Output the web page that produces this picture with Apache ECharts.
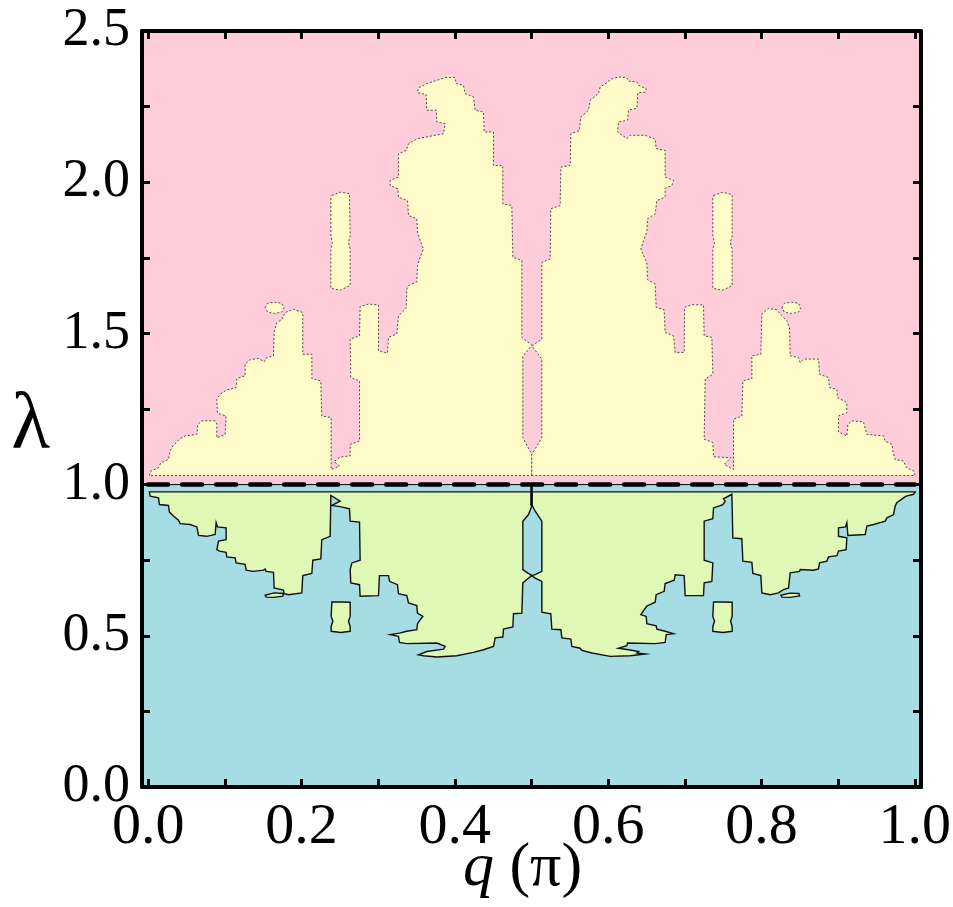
<!DOCTYPE html>
<html>
<head>
<meta charset="utf-8">
<title>q - lambda phase diagram</title>
<script src="https://cdn.jsdelivr.net/npm/echarts@6/dist/echarts.min.js"></script>
</head>
<body style="margin:0;background:#fff">
<div id="main" style="width:953px;height:907px;"></div>
<script>
// ticks and labels
var xTicks = [0, 0.1, 0.2, 0.3, 0.4, 0.5, 0.6, 0.7, 0.8, 0.9, 1.0];
var xLabels = [0, 0.2, 0.4, 0.6, 0.8, 1.0];
var yTicks = [0, 0.25, 0.5, 0.75, 1.0, 1.25, 1.5, 1.75, 2.0, 2.25, 2.5];
var yLabels = [0, 0.5, 1.0, 1.5, 2.0, 2.5];

// background bands of lambda
var bandBelow = [0, 1.0];
var bandAbove = [1.0, 2.5];

// lambda > 1 regions (yellow), [q, lambda]
var yellowLeft = [
  [0.0017,1.030],[0.0035,1.045],[0.0135,1.056],[0.0165,1.072],[0.0265,1.083],[0.0287,1.111],[0.0322,1.128],[0.0417,1.152],[0.0483,1.161],[0.0635,1.166],
  [0.0648,1.199],[0.0700,1.211],[0.0874,1.211],[0.0896,1.199],[0.0896,1.155],[0.1004,1.166],[0.1017,1.227],[0.0904,1.236],[0.0896,1.282],[0.0939,1.299],
  [0.1026,1.313],[0.1148,1.321],[0.1157,1.351],[0.1265,1.360],[0.1265,1.398],[0.1330,1.413],[0.1439,1.417],[0.1513,1.406],[0.1548,1.420],[0.1635,1.426],
  [0.1643,1.503],[0.1678,1.536],[0.1743,1.545],[0.1787,1.569],[0.1896,1.580],[0.2017,1.569],[0.2017,1.431],[0.2135,1.431],[0.2135,1.351],[0.2252,1.343],
  [0.2265,1.227],[0.2387,1.222],[0.2387,1.050],[0.2496,1.061],[0.2426,1.076],[0.2504,1.091],[0.2635,1.095],[0.2635,1.133],[0.2757,1.144],[0.2757,1.343],
  [0.2643,1.354],[0.2635,1.481],[0.2757,1.492],[0.2765,1.589],[0.2874,1.597],[0.3004,1.594],[0.3004,1.442],[0.3122,1.435],[0.3135,1.487],[0.3243,1.498],
  [0.3265,1.558],[0.3365,1.583],[0.3374,1.647],[0.3409,1.660],[0.3504,1.671],[0.3513,1.724],[0.3548,1.752],[0.3591,1.779],[0.3548,1.807],[0.3513,1.835],
  [0.3504,1.879],[0.3396,1.890],[0.3383,1.939],[0.3265,1.951],[0.3257,1.978],[0.3157,1.989],[0.3157,2.006],[0.3265,2.017],[0.3265,2.094],[0.3365,2.105],
  [0.3396,2.127],[0.3513,2.144],[0.3743,2.155],[0.3852,2.160],[0.3874,2.194],[0.3765,2.199],[0.3757,2.238],[0.3635,2.238],[0.3626,2.290],[0.3513,2.296],
  [0.3526,2.312],[0.3635,2.326],[0.3874,2.346],[0.4004,2.346],[0.4017,2.326],[0.4113,2.320],[0.4135,2.293],[0.4243,2.282],[0.4265,2.238],[0.4374,2.232],
  [0.4383,2.166],[0.4504,2.166],[0.4504,2.055],[0.4626,2.055],[0.4626,1.928],[0.4743,1.923],[0.4757,1.752],[0.4874,1.741],[0.4874,1.487],[0.5004,1.461],
  [0.4887,1.424],[0.4887,1.155],[0.5004,1.100],[0.5004,1.030]
];
var yellowRight = [
  [0.5004,1.030],[0.5004,1.100],[0.5135,1.155],[0.5135,1.415],[0.5004,1.459],[0.5135,1.481],[0.5135,1.735],[0.5243,1.746],[0.5252,1.912],[0.5374,1.923],
  [0.5383,2.050],[0.5504,2.055],[0.5513,2.160],[0.5626,2.171],[0.5643,2.216],[0.5743,2.238],[0.5765,2.271],[0.5874,2.293],[0.5896,2.315],[0.6004,2.332],
  [0.6026,2.340],[0.6135,2.348],[0.6243,2.346],[0.6265,2.334],[0.6374,2.332],[0.6396,2.320],[0.6496,2.309],[0.6483,2.298],[0.6387,2.296],[0.6374,2.245],
  [0.6265,2.238],[0.6252,2.205],[0.6135,2.199],[0.6122,2.166],[0.6243,2.144],[0.6287,2.155],[0.6483,2.155],[0.6613,2.142],[0.6626,2.111],[0.6743,2.105],
  [0.6743,2.017],[0.6852,2.006],[0.6830,1.989],[0.6743,1.980],[0.6743,1.951],[0.6635,1.939],[0.6613,1.895],[0.6513,1.879],[0.6504,1.835],[0.6461,1.807],
  [0.6426,1.779],[0.6470,1.752],[0.6504,1.735],[0.6513,1.678],[0.6613,1.663],[0.6626,1.586],[0.6730,1.578],[0.6743,1.503],[0.6852,1.492],[0.6874,1.437],
  [0.6991,1.437],[0.6996,1.586],[0.7091,1.595],[0.7243,1.594],[0.7252,1.492],[0.7352,1.487],[0.7365,1.365],[0.7265,1.349],[0.7252,1.150],[0.7365,1.139],
  [0.7374,1.092],[0.7600,1.089],[0.7513,1.067],[0.7635,1.050],[0.7635,1.216],[0.7743,1.227],[0.7757,1.343],[0.7874,1.351],[0.7874,1.426],[0.7991,1.431],
  [0.8004,1.564],[0.8091,1.583],[0.8200,1.578],[0.8265,1.558],[0.8330,1.542],[0.8365,1.520],[0.8374,1.426],[0.8483,1.420],[0.8504,1.404],[0.8548,1.415],
  [0.8743,1.415],[0.8757,1.365],[0.8874,1.354],[0.8887,1.321],[0.8983,1.315],[0.8991,1.288],[0.9113,1.271],[0.9113,1.238],[0.9004,1.227],[0.9004,1.174],
  [0.9113,1.161],[0.9126,1.199],[0.9178,1.211],[0.9330,1.207],[0.9374,1.166],[0.9591,1.161],[0.9613,1.144],[0.9700,1.133],[0.9713,1.111],[0.9743,1.083],
  [0.9852,1.078],[0.9887,1.056],[0.9983,1.045],[1.0004,1.030]
];
var yellowBarLeft = [
  [0.2396,1.956],[0.2504,1.967],[0.2626,1.962],[0.2635,1.823],[0.2613,1.801],[0.2635,1.779],[0.2635,1.658],
  [0.2504,1.643],[0.2383,1.649],[0.2383,1.779],[0.2404,1.801],[0.2383,1.823],[0.2383,1.950]
];
var yellowBarRight = [
  [0.7374,1.956],[0.7496,1.967],[0.7617,1.958],[0.7617,1.823],[0.7591,1.801],[0.7617,1.779],[0.7617,1.658],
  [0.7496,1.643],[0.7365,1.649],[0.7365,1.779],[0.7387,1.801],[0.7365,1.823],[0.7365,1.950]
];
var yellowDotLeft = [
  [0.1526,1.585],[0.1560,1.600],[0.1650,1.603],[0.1740,1.600],[0.1774,1.585],[0.1740,1.570],[0.1650,1.566],[0.1560,1.570]
];
var yellowDotRight = [
  [0.8265,1.585],[0.8300,1.600],[0.8390,1.603],[0.8480,1.600],[0.8513,1.585],[0.8480,1.570],[0.8390,1.566],[0.8300,1.570]
];

// lambda < 1 regions (green), [q, lambda]
var greenLeft = [
  [0.0017,0.976],[0.0026,0.962],[0.0135,0.956],[0.0148,0.934],[0.0265,0.931],[0.0278,0.909],[0.0330,0.896],[0.0396,0.882],[0.0417,0.871],[0.0548,0.868],
  [0.0635,0.860],[0.0657,0.832],[0.0765,0.829],[0.0874,0.835],[0.0887,0.874],[0.0904,0.860],[0.1017,0.857],[0.1017,0.818],[0.0917,0.813],[0.0896,0.785],
  [0.0930,0.780],[0.1017,0.776],[0.1026,0.761],[0.1135,0.758],[0.1148,0.741],[0.1265,0.736],[0.1278,0.717],[0.1374,0.713],[0.1504,0.717],[0.1526,0.721],
  [0.1539,0.713],[0.1635,0.710],[0.1643,0.658],[0.1765,0.651],[0.1774,0.639],[0.1830,0.636],[0.2004,0.642],[0.2017,0.699],[0.2135,0.706],[0.2148,0.750],
  [0.2252,0.754],[0.2265,0.818],[0.2374,0.829],[0.2383,0.964],[0.2504,0.945],[0.2396,0.931],[0.2504,0.927],[0.2626,0.920],[0.2635,0.879],[0.2757,0.876],
  [0.2765,0.750],[0.2657,0.741],[0.2635,0.719],[0.2643,0.675],[0.2757,0.669],[0.2765,0.631],[0.3004,0.633],[0.3017,0.699],[0.3135,0.699],[0.3148,0.680],
  [0.3252,0.669],[0.3265,0.639],[0.3374,0.633],[0.3396,0.609],[0.3504,0.600],[0.3513,0.575],[0.3583,0.564],[0.3548,0.553],[0.3513,0.540],[0.3504,0.520],
  [0.3374,0.515],[0.3278,0.509],[0.3157,0.504],[0.3265,0.498],[0.3278,0.478],[0.3374,0.474],[0.3765,0.476],[0.3874,0.465],[0.3852,0.456],[0.3635,0.448],
  [0.3526,0.437],[0.3591,0.434],[0.3765,0.430],[0.4026,0.434],[0.4243,0.445],[0.4374,0.454],[0.4504,0.465],[0.4526,0.493],[0.4626,0.496],[0.4635,0.522],
  [0.4757,0.529],[0.4765,0.573],[0.4874,0.575],[0.4887,0.675],[0.4939,0.686],[0.5004,0.699],[0.4939,0.710],[0.4887,0.719],[0.4887,0.879],[0.4961,0.901],
  [0.5004,0.929],[0.5004,0.976]
];
var greenRight = [
  [0.5004,0.976],[0.5004,0.934],[0.5048,0.912],[0.5135,0.879],[0.5135,0.713],[0.5048,0.702],[0.5004,0.699],[0.5048,0.691],[0.5135,0.680],[0.5135,0.578],
  [0.5252,0.573],[0.5265,0.522],[0.5383,0.520],[0.5396,0.493],[0.5513,0.489],[0.5526,0.465],[0.5635,0.459],[0.5657,0.452],[0.5787,0.443],[0.6026,0.432],
  [0.6287,0.434],[0.6483,0.440],[0.6374,0.443],[0.6396,0.448],[0.6265,0.454],[0.6135,0.459],[0.6243,0.467],[0.6252,0.476],[0.6613,0.474],[0.6743,0.478],
  [0.6757,0.504],[0.6852,0.507],[0.6743,0.515],[0.6635,0.522],[0.6626,0.533],[0.6504,0.540],[0.6496,0.564],[0.6426,0.570],[0.6504,0.598],[0.6613,0.611],
  [0.6626,0.636],[0.6730,0.647],[0.6743,0.673],[0.6861,0.684],[0.6874,0.702],[0.6991,0.699],[0.7004,0.633],[0.7243,0.633],[0.7252,0.675],[0.7352,0.680],
  [0.7365,0.741],[0.7252,0.750],[0.7252,0.879],[0.7365,0.887],[0.7374,0.923],[0.7496,0.934],[0.7526,0.945],[0.7504,0.953],[0.7613,0.968],[0.7626,0.824],
  [0.7743,0.821],[0.7757,0.747],[0.7874,0.743],[0.7887,0.706],[0.7991,0.699],[0.8004,0.642],[0.8113,0.636],[0.8222,0.642],[0.8287,0.653],[0.8352,0.658],
  [0.8374,0.708],[0.8496,0.713],[0.8504,0.719],[0.8678,0.717],[0.8743,0.721],[0.8757,0.741],[0.8852,0.747],[0.8874,0.761],[0.8983,0.765],[0.9004,0.780],
  [0.9104,0.785],[0.9113,0.824],[0.9004,0.829],[0.9004,0.857],[0.9096,0.860],[0.9113,0.874],[0.9126,0.832],[0.9352,0.835],[0.9374,0.863],[0.9461,0.868],
  [0.9613,0.879],[0.9635,0.890],[0.9722,0.901],[0.9743,0.929],[0.9765,0.940],[0.9852,0.956],[0.9887,0.962],[0.9983,0.968],[1.0004,0.976]
];
var greenDotLeft = [[0.1526,0.634],[0.1643,0.642],[0.1765,0.640],[0.1757,0.631],[0.1635,0.627],[0.1539,0.628]];
var greenDotRight = [[0.8252,0.634],[0.8370,0.641],[0.8487,0.640],[0.8496,0.632],[0.8374,0.627],[0.8265,0.628]];
var greenBoxLeft = [
  [0.2396,0.612],[0.2513,0.612],[0.2635,0.611],[0.2635,0.564],[0.2613,0.548],[0.2635,0.531],
  [0.2635,0.515],[0.2513,0.511],[0.2387,0.515],[0.2387,0.531],[0.2409,0.548],[0.2387,0.564]
];
var greenBoxRight = [
  [0.7374,0.612],[0.7496,0.612],[0.7617,0.611],[0.7617,0.564],[0.7596,0.548],[0.7617,0.531],
  [0.7617,0.515],[0.7496,0.511],[0.7365,0.515],[0.7365,0.531],[0.7387,0.548],[0.7365,0.564]
];

// boundary lines
var boundaryLine = [[0, 1.0], [1, 1.0]];
var centerLine = [[0.5, 1.0], [0.5, 0.93]];

var PINK = '#ffccda', BLUE = '#a6dde5', YELLOW = '#fffbc8', GREEN = '#e0f8b5';
var FONT = 'Liberation Serif';

var bands = [
  { range: bandBelow, color: BLUE },
  { range: bandAbove, color: PINK }
];
var regions = [
  { pts: yellowLeft, kind: 'y' }, { pts: yellowRight, kind: 'y' },
  { pts: yellowBarLeft, kind: 'y' }, { pts: yellowBarRight, kind: 'y' },
  { pts: yellowDotLeft, kind: 'y' }, { pts: yellowDotRight, kind: 'y' },
  { pts: greenLeft, kind: 'g' }, { pts: greenRight, kind: 'g' },
  { pts: greenDotLeft, kind: 'g' }, { pts: greenDotRight, kind: 'g' },
  { pts: greenBoxLeft, kind: 'g' }, { pts: greenBoxRight, kind: 'g' }
];

var myChart = echarts.init(document.getElementById('main'));

// frame line shared by all four axes
function axisCommon() {
  return {
    axisLine: { show: true, onZero: false, lineStyle: { color: '#000', width: 4 } },
    splitLine: { show: false },
    z: 10
  };
}

var option = {
  animation: false,
  grid: { left: 142, top: 31, width: 779, height: 756, outerBoundsMode: 'none', containLabel: false },
  xAxis: [
    Object.assign(axisCommon(), {
      type: 'value', min: -0.008, max: 1.008, position: 'bottom',
      axisTick: { inside: true, length: 8, customValues: xTicks, lineStyle: { color: '#000', width: 3 } },
      axisLabel: {
        customValues: xLabels, margin: 12, color: '#000', fontFamily: FONT, fontSize: 58,
        formatter: function (v) { return v.toFixed(1); }
      },
      name: '{i|q} (π)', nameLocation: 'middle', nameGap: 51, nameMoveOverlap: false,
      nameTextStyle: {
        color: '#000', fontFamily: FONT, fontSize: 62, padding: [0, 18, 0, 0],
        rich: { i: { fontStyle: 'italic', fontFamily: FONT, fontSize: 62, color: '#000' } }
      }
    }),
    Object.assign(axisCommon(), {
      type: 'value', min: -0.008, max: 1.008, position: 'top',
      axisTick: { inside: true, length: 8, customValues: xTicks, lineStyle: { color: '#000', width: 3 } },
      axisLabel: { show: false }
    })
  ],
  yAxis: [
    Object.assign(axisCommon(), {
      type: 'value', min: 0, max: 2.5, position: 'left',
      axisTick: { inside: true, length: 8, customValues: yTicks, lineStyle: { color: '#000', width: 3 } },
      axisLabel: {
        customValues: yLabels, margin: 12, color: '#000', fontFamily: FONT, fontSize: 54,
        formatter: function (v) { return v.toFixed(1); }
      },
      name: 'λ', nameLocation: 'middle', nameRotate: 0, nameGap: 92, nameMoveOverlap: false,
      nameTextStyle: { color: '#000', fontFamily: FONT, fontSize: 80, verticalAlign: 'top', lineHeight: 36 }
    }),
    Object.assign(axisCommon(), {
      type: 'value', min: 0, max: 2.5, position: 'right',
      axisTick: { inside: true, length: 8, customValues: yTicks, lineStyle: { color: '#000', width: 3 } },
      axisLabel: { show: false }
    })
  ],
  series: [
    {
      // pink / blue background bands
      type: 'custom', silent: true, z: 1,
      data: bands.map(function (b) { return [0, b.range[0], b.range[1]]; }),
      renderItem: function (params, api) {
        var b = bands[params.dataIndex];
        var cs = params.coordSys;
        var top = api.coord([0, b.range[1]])[1];
        var bot = api.coord([0, b.range[0]])[1];
        return { type: 'rect', shape: { x: cs.x, y: top, width: cs.width, height: bot - top }, style: { fill: b.color } };
      }
    },
    {
      // phase regions
      type: 'custom', silent: true, z: 2,
      data: regions.map(function (r) { return r.pts[0]; }),
      renderItem: function (params, api) {
        var r = regions[params.dataIndex];
        var pts = r.pts.map(function (p) { return api.coord(p); });
        var style = r.kind === 'y'
          ? { fill: YELLOW, stroke: '#4a4a4a', lineWidth: 1, lineDash: [2, 2] }
          : { fill: GREEN, stroke: '#111', lineWidth: 1.4 };
        return { type: 'polygon', shape: { points: pts }, style: style };
      }
    },
    {
      type: 'line', silent: true, z: 3, symbol: 'none', data: boundaryLine,
      lineStyle: { color: '#000', width: 1 }
    },
    {
      type: 'line', silent: true, z: 4, symbol: 'none', data: boundaryLine,
      lineStyle: { color: '#000', width: 4.5, type: [20, 14], cap: 'round' }
    },
    {
      type: 'line', silent: true, z: 4, symbol: 'none', data: centerLine,
      lineStyle: { color: '#000', width: 2.5 }
    }
  ]
};

myChart.setOption(option);
</script>
</body>
</html>
